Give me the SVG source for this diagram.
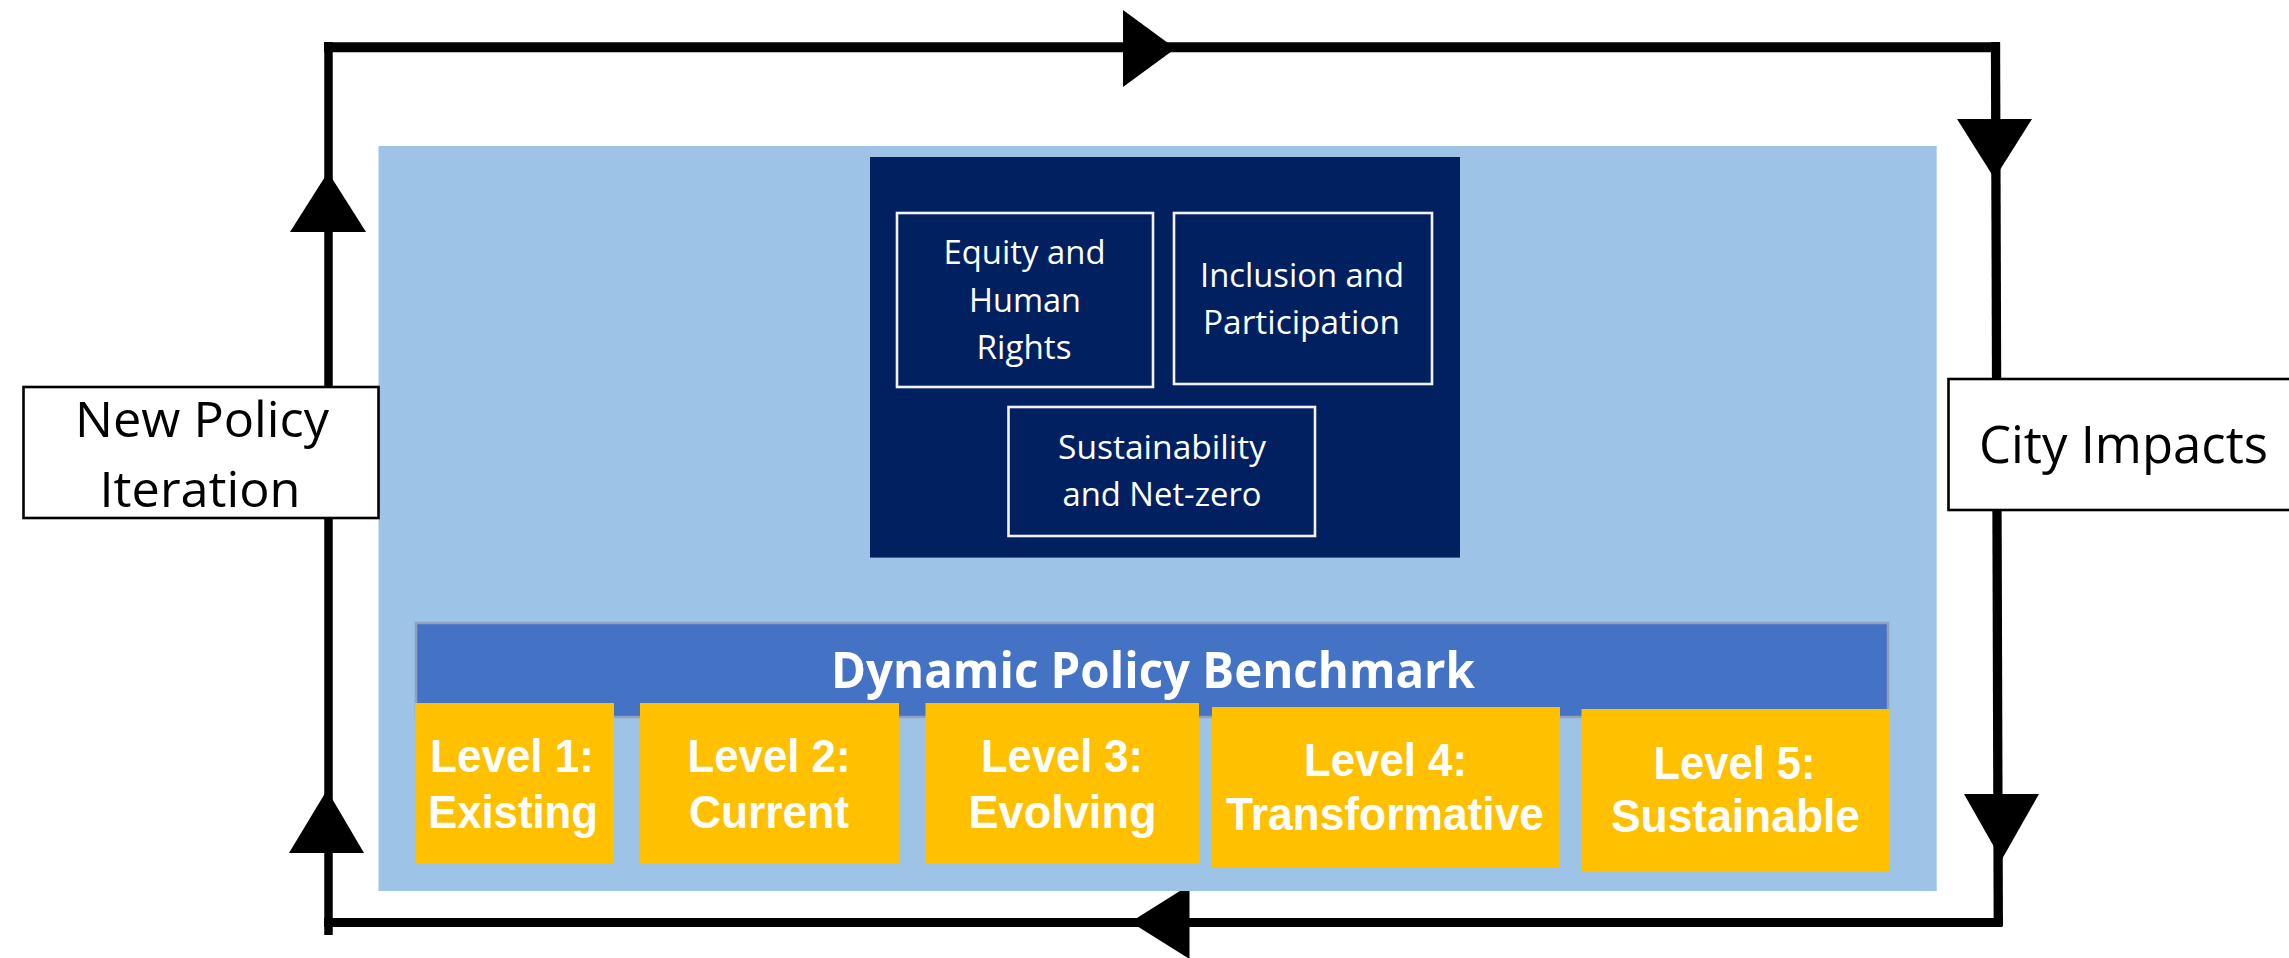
<svg xmlns="http://www.w3.org/2000/svg" width="2289" height="958" viewBox="0 0 2289 958">
  <defs>
    <style>
      .line { stroke: #000; fill: none; stroke-linecap: butt; }
      .arrow { fill: #000; stroke: none; }
      .label { fill: #fff; stroke: #000; stroke-width: 2.6; }
      .label-text { font-family: "Open Sans", "Liberation Sans", sans-serif; fill: #000; text-anchor: middle; }
      .pillar { fill: #002060; stroke: #F2F2F2; stroke-width: 2.6; }
      .pillar-text { font-family: "Open Sans", "Liberation Sans", sans-serif; font-size: 32px; fill: #fff; text-anchor: middle; }
      .level { fill: #FFC000; stroke: none; }
      .level-text { font-family: "Liberation Sans Narrow", "Liberation Sans", Arial, sans-serif; font-weight: bold; font-size: 46px; fill: #fff; text-anchor: middle; }
    </style>
  </defs>

  <rect x="0" y="0" width="2289" height="958" fill="#fff"/>

  <g id="connectors">
    <line class="line" x1="324" y1="47.3" x2="2000" y2="47.3" stroke-width="10"/>
    <line class="line" x1="328.5" y1="42" x2="328.5" y2="935" stroke-width="8.5"/>
    <line class="line" x1="1995.5" y1="42" x2="1998.3" y2="926" stroke-width="9.3"/>
    <line class="line" x1="324" y1="922.5" x2="2002.5" y2="922.5" stroke-width="9"/>
    <polygon class="arrow" points="1123,10 1123,87 1175.5,48.5"/>
    <polygon class="arrow" points="1957,119 2032,119 1994.5,178.5"/>
    <polygon class="arrow" points="1964,794 2039,794 2001.5,860"/>
    <polygon class="arrow" points="1189.5,885 1189.5,959 1130.5,922"/>
    <polygon class="arrow" points="290,232 366,232 328,172"/>
    <polygon class="arrow" points="289,853 364,853 327,790"/>
  </g>

  <g id="framework">
    <rect x="378.5" y="146" width="1558.2" height="745" fill="#9DC3E6"/>
  </g>

  <g id="principles">
    <rect x="870" y="157" width="590" height="400.6" fill="#002060"/>
  </g>

  <g id="node-equity">
    <rect class="pillar" x="897" y="213" width="256" height="174"/>
    <text class="pillar-text" x="1024.5" y="264" textLength="162" lengthAdjust="spacingAndGlyphs">Equity and</text>
    <text class="pillar-text" x="1025" y="312" textLength="112" lengthAdjust="spacingAndGlyphs">Human</text>
    <text class="pillar-text" x="1024" y="359" textLength="95" lengthAdjust="spacingAndGlyphs">Rights</text>
  </g>

  <g id="node-inclusion">
    <rect class="pillar" x="1174" y="213" width="258" height="171"/>
    <text class="pillar-text" x="1302" y="287" textLength="204" lengthAdjust="spacingAndGlyphs">Inclusion and</text>
    <text class="pillar-text" x="1301.5" y="334" textLength="197" lengthAdjust="spacingAndGlyphs">Participation</text>
  </g>

  <g id="node-sustainability">
    <rect class="pillar" x="1008.5" y="407" width="306.5" height="129"/>
    <text class="pillar-text" x="1162" y="459" textLength="208" lengthAdjust="spacingAndGlyphs">Sustainability</text>
    <text class="pillar-text" x="1162" y="506" textLength="199" lengthAdjust="spacingAndGlyphs">and Net-zero</text>
  </g>

  <g id="node-benchmark">
    <rect x="416" y="623" width="1472" height="94" fill="#4472C4" stroke="#8EA1BD" stroke-width="2.5"/>
    <text x="1153" y="688" font-family="'Open Sans', 'Liberation Sans', sans-serif" font-weight="bold" font-size="51" fill="#fff" text-anchor="middle" textLength="644" lengthAdjust="spacingAndGlyphs">Dynamic Policy Benchmark</text>
  </g>

  <g id="node-level1">
    <rect class="level" x="415" y="703" width="199" height="161"/>
    <text class="level-text" x="512" y="772" textLength="164" lengthAdjust="spacingAndGlyphs">Level 1:</text>
    <text class="level-text" x="513" y="827.7" textLength="170" lengthAdjust="spacingAndGlyphs">Existing</text>
  </g>

  <g id="node-level2">
    <rect class="level" x="640" y="703" width="259" height="161"/>
    <text class="level-text" x="769" y="772" textLength="163" lengthAdjust="spacingAndGlyphs">Level 2:</text>
    <text class="level-text" x="769" y="827.7" textLength="160" lengthAdjust="spacingAndGlyphs">Current</text>
  </g>

  <g id="node-level3">
    <rect class="level" x="925.5" y="703" width="273.5" height="161"/>
    <text class="level-text" x="1062" y="772" textLength="162" lengthAdjust="spacingAndGlyphs">Level 3:</text>
    <text class="level-text" x="1062.5" y="827.7" textLength="188" lengthAdjust="spacingAndGlyphs">Evolving</text>
  </g>

  <g id="node-level4">
    <rect class="level" x="1212" y="707" width="348" height="160"/>
    <text class="level-text" x="1385.5" y="775.7" textLength="163" lengthAdjust="spacingAndGlyphs">Level 4:</text>
    <text class="level-text" x="1385" y="830" textLength="318" lengthAdjust="spacingAndGlyphs">Transformative</text>
  </g>

  <g id="node-level5">
    <rect class="level" x="1581.5" y="709" width="308.5" height="162"/>
    <text class="level-text" x="1734.5" y="779" textLength="162" lengthAdjust="spacingAndGlyphs">Level 5:</text>
    <text class="level-text" x="1735.5" y="832" textLength="249" lengthAdjust="spacingAndGlyphs">Sustainable</text>
  </g>

  <g id="node-new-policy">
    <rect class="label" x="23.5" y="387" width="355" height="131"/>
    <text class="label-text" x="202" y="436.7" font-size="50" textLength="254" lengthAdjust="spacingAndGlyphs">New Policy</text>
    <text class="label-text" x="200" y="506.7" font-size="50" textLength="201" lengthAdjust="spacingAndGlyphs">Iteration</text>
  </g>

  <g id="node-city-impacts">
    <rect class="label" x="1948.5" y="379" width="345" height="131"/>
    <text class="label-text" x="2123.5" y="463.3" font-size="51" textLength="289" lengthAdjust="spacingAndGlyphs">City Impacts</text>
  </g>
</svg>
